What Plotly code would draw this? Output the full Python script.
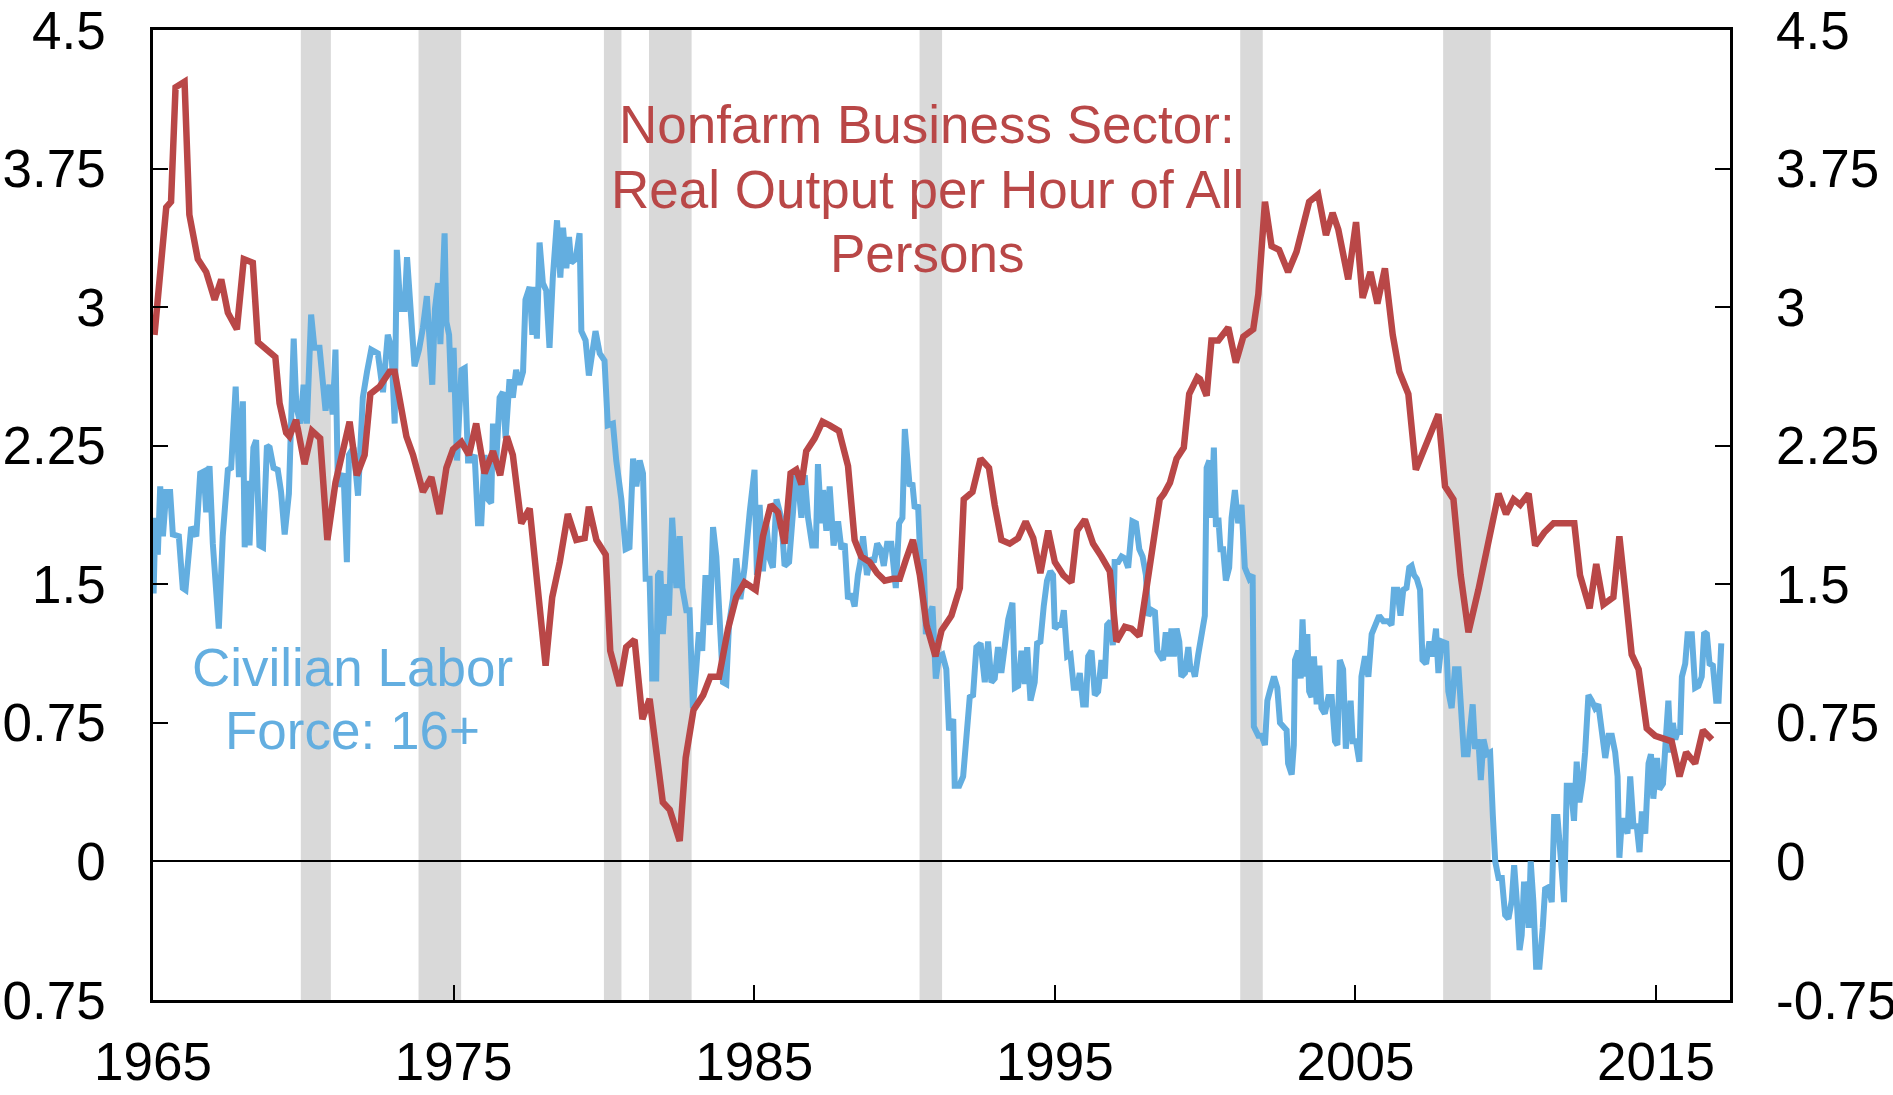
import plotly.graph_objects as go

# ---------------- data ----------------
# Civilian Labor Force: 16+ (yoy % change), decimal years
labor_years = [
    1965.02, 1965.08, 1965.16, 1965.24, 1965.33, 1965.44, 1965.57, 1965.66, 1965.86, 1965.99,
    1966.08, 1966.27, 1966.44, 1966.57, 1966.69, 1966.77, 1966.88, 1966.99, 1967.19, 1967.32,
    1967.49, 1967.60, 1967.75, 1967.86, 1967.99, 1968.05, 1968.12, 1968.21, 1968.34, 1968.43,
    1968.54, 1968.66, 1968.79, 1968.88, 1969.01, 1969.15, 1969.26, 1969.38, 1969.52, 1969.68,
    1969.77, 1969.90, 1970.01, 1970.12, 1970.26, 1970.37, 1970.54, 1970.65, 1970.74, 1970.87,
    1970.98, 1971.07, 1971.15, 1971.34, 1971.45, 1971.52, 1971.67, 1971.82, 1971.98, 1972.12,
    1972.26, 1972.48, 1972.65, 1972.81, 1972.93, 1973.04, 1973.11, 1973.23, 1973.37, 1973.45,
    1973.56, 1973.70, 1973.85, 1973.98, 1974.11, 1974.29, 1974.38, 1974.48, 1974.56, 1974.70,
    1974.76, 1974.85, 1974.92, 1975.00, 1975.11, 1975.26, 1975.37, 1975.48,
    1975.59, 1975.70, 1975.81, 1975.92, 1976.03, 1976.14, 1976.25, 1976.31, 1976.42, 1976.53,
    1976.64, 1976.73, 1976.86, 1976.97, 1977.08, 1977.19, 1977.31, 1977.39, 1977.53, 1977.62,
    1977.69, 1977.77, 1977.86, 1977.97, 1978.08, 1978.19, 1978.30, 1978.44, 1978.55, 1978.64,
    1978.75, 1978.84, 1978.91, 1979.06, 1979.19, 1979.25, 1979.39, 1979.50, 1979.61, 1979.72,
    1979.86, 1980.02, 1980.13, 1980.30, 1980.41, 1980.58, 1980.72, 1980.85, 1980.97, 1981.08,
    1981.19, 1981.30, 1981.39, 1981.52, 1981.61, 1981.74, 1981.80, 1981.88, 1981.96, 1982.07,
    1982.16, 1982.27, 1982.41, 1982.52, 1982.61, 1982.74, 1982.85, 1982.96, 1983.07, 1983.16,
    1983.27, 1983.38, 1983.52, 1983.63, 1983.74, 1983.85, 1983.96, 1984.07, 1984.16, 1984.29,
    1984.40, 1984.54, 1984.68, 1984.85, 1985.01, 1985.09, 1985.18, 1985.29, 1985.40, 1985.51,
    1985.62, 1985.74, 1985.90, 1986.01, 1986.16,
    1986.29, 1986.38, 1986.49, 1986.57, 1986.68, 1986.79, 1986.93, 1987.05, 1987.12, 1987.23,
    1987.29, 1987.40, 1987.51, 1987.64, 1987.79, 1987.90, 1988.01, 1988.12, 1988.23, 1988.34,
    1988.45, 1988.53, 1988.62, 1988.75, 1988.86, 1988.98, 1989.09, 1989.20, 1989.31, 1989.42,
    1989.56, 1989.71, 1989.82, 1989.93, 1990.01, 1990.08, 1990.17, 1990.26, 1990.34, 1990.45,
    1990.53, 1990.64, 1990.71, 1990.82, 1990.93, 1991.04, 1991.15, 1991.26, 1991.39, 1991.48,
    1991.62, 1991.67, 1991.82, 1991.95, 1992.06, 1992.17, 1992.28, 1992.39, 1992.53, 1992.67,
    1992.78, 1992.89, 1993.00, 1993.11, 1993.22, 1993.33, 1993.45, 1993.59, 1993.67, 1993.78,
    1993.89, 1994.00, 1994.08, 1994.19, 1994.33, 1994.41, 1994.52, 1994.63, 1994.74, 1994.85,
    1994.94, 1995.00, 1995.11, 1995.22, 1995.30, 1995.41, 1995.52, 1995.63, 1995.74, 1995.83,
    1995.94, 1996.03, 1996.11, 1996.22, 1996.33, 1996.44, 1996.55, 1996.66, 1996.74, 1996.85,
    1996.93, 1996.99, 1997.11, 1997.22, 1997.33, 1997.44, 1997.58, 1997.70, 1997.81, 1997.92,
    1998.03, 1998.11, 1998.22, 1998.33, 1998.41, 1998.52, 1998.60, 1998.69, 1998.80, 1998.88,
    1998.96, 1999.05, 1999.14, 1999.21, 1999.33, 1999.44, 1999.51, 1999.60, 1999.66, 1999.77,
    1999.88, 1999.99, 2000.05, 2000.14, 2000.21, 2000.29, 2000.36, 2000.44, 2000.51, 2000.60,
    2000.69, 2000.80, 2000.88, 2000.99, 2001.10, 2001.21, 2001.32, 2001.47, 2001.58, 2001.62,
    2001.77, 2001.88, 2001.99, 2002.07, 2002.15, 2002.29, 2002.40, 2002.49, 2002.60, 2002.71,
    2002.76, 2002.88, 2002.95, 2002.99, 2003.10, 2003.18, 2003.24, 2003.32, 2003.40, 2003.46,
    2003.54, 2003.62, 2003.71, 2003.80, 2003.87, 2003.98, 2004.10, 2004.21, 2004.32, 2004.40,
    2004.48, 2004.59, 2004.68, 2004.76, 2004.84, 2004.91, 2005.02, 2005.13, 2005.20, 2005.32,
    2005.43, 2005.54, 2005.65, 2005.79, 2005.93, 2006.09, 2006.20, 2006.28, 2006.39, 2006.50,
    2006.59, 2006.70, 2006.79, 2006.87, 2006.95, 2007.04, 2007.15, 2007.23, 2007.35, 2007.46,
    2007.57, 2007.68,
    2007.76, 2007.87, 2008.02, 2008.09, 2008.20, 2008.31, 2008.43, 2008.50, 2008.61, 2008.73,
    2008.81, 2008.90, 2008.98, 2009.09, 2009.17, 2009.26, 2009.37, 2009.48, 2009.57, 2009.65,
    2009.76, 2009.87, 2009.98, 2010.09, 2010.20, 2010.28, 2010.37, 2010.46, 2010.53, 2010.61,
    2010.70, 2010.76, 2010.83, 2010.92, 2011.01, 2011.12, 2011.23, 2011.31, 2011.42, 2011.53,
    2011.61, 2011.72, 2011.83, 2011.94, 2012.03, 2012.16, 2012.27, 2012.36, 2012.45, 2012.56,
    2012.64, 2012.75, 2012.86, 2012.97, 2013.08, 2013.20, 2013.31, 2013.42, 2013.53, 2013.64,
    2013.72, 2013.78, 2013.86, 2013.94, 2014.05, 2014.14, 2014.25, 2014.36, 2014.45, 2014.53,
    2014.64, 2014.75, 2014.83, 2014.91, 2015.03, 2015.11, 2015.23, 2015.34, 2015.41, 2015.49,
    2015.56, 2015.64, 2015.71, 2015.80, 2015.86, 2015.97, 2016.05, 2016.19, 2016.30, 2016.41,
    2016.52, 2016.60, 2016.69, 2016.78, 2016.89, 2017.00, 2017.08, 2017.17,
]
labor_values = [
    1.45, 1.86, 1.66, 2.03, 1.76, 2.00, 2.00, 1.77, 1.76, 1.48,
    1.47, 1.81, 1.76, 2.10, 2.11, 1.89, 2.14, 1.72, 1.26, 1.76,
    2.12, 2.13, 2.57, 2.08, 2.49, 1.70, 2.06, 1.71, 2.24, 2.28,
    1.71, 1.70, 2.25, 2.24, 2.13, 2.12, 2.00, 1.77, 1.99, 2.83,
    2.46, 2.37, 2.58, 2.37, 2.96, 2.78, 2.78, 2.54, 2.44, 2.58,
    2.42, 2.77, 2.03, 2.10, 1.62, 2.20, 2.24, 1.98, 2.51, 2.65,
    2.77, 2.75, 2.54, 2.85, 2.78, 2.37, 3.31, 2.99, 2.99, 3.27,
    3.04, 2.68, 2.77, 2.89, 3.06, 2.58, 2.99, 3.13, 2.80, 3.40,
    2.92, 2.85, 2.54, 2.78, 2.17, 2.66, 2.67, 2.17,
    2.17, 2.20, 1.83, 1.83, 2.20, 1.96, 1.94, 2.37, 2.17, 2.51,
    2.54, 2.29, 2.61, 2.51, 2.66, 2.58, 2.65, 3.04, 3.11, 2.85,
    3.11, 2.83, 3.35, 3.13, 3.09, 2.78, 3.16, 3.47, 3.16, 3.43,
    3.21, 3.38, 3.24, 3.26, 3.40, 2.87, 2.82, 2.63, 2.75, 2.87,
    2.75, 2.71, 2.36, 2.37, 2.17, 1.96, 1.69, 1.70, 2.18, 2.03,
    2.17, 2.10, 1.53, 1.53, 0.99, 0.99, 1.55, 1.57, 1.23, 1.50,
    1.33, 1.86, 1.48, 1.76, 1.48, 1.36, 1.36, 0.83, 1.04, 1.24,
    1.14, 1.55, 1.28, 1.81, 1.65, 1.35, 0.97, 0.96, 1.28, 1.42,
    1.64, 1.42, 1.59, 1.89, 2.12, 1.55, 1.93, 1.57, 1.83, 1.64,
    1.59, 1.96, 1.86, 1.60, 1.62,
    1.89, 2.10, 2.00, 1.86, 2.09, 1.86, 1.71, 1.71, 2.15, 1.83,
    2.01, 1.79, 2.03, 1.71, 1.84, 1.69, 1.72, 1.42, 1.45, 1.38,
    1.55, 1.62, 1.76, 1.55, 1.64, 1.62, 1.72, 1.69, 1.60, 1.72,
    1.72, 1.48, 1.83, 1.86, 2.34, 2.17, 2.03, 2.05, 1.91, 1.93,
    1.62, 1.62, 1.23, 1.33, 1.38, 0.99, 1.11, 1.12, 1.04, 0.71,
    0.77, 0.41, 0.41, 0.46, 0.70, 0.89, 0.90, 1.16, 1.18, 0.97,
    1.19, 0.97, 0.99, 1.16, 1.02, 1.19, 1.31, 1.40, 0.94, 0.95,
    1.14, 0.96, 1.16, 0.87, 0.97, 1.18, 1.19, 1.38, 1.52, 1.57,
    1.55, 1.26, 1.28, 1.28, 1.36, 1.11, 1.12, 0.94, 0.94, 1.02,
    0.85, 0.85, 1.11, 1.14, 0.90, 0.92, 1.09, 0.99, 1.28, 1.30,
    1.17, 1.62, 1.62, 1.65, 1.64, 1.59, 1.84, 1.83, 1.69, 1.65,
    1.55, 1.33, 1.36, 1.35, 1.14, 1.11, 1.09, 1.24, 1.11, 1.26,
    1.11, 1.26, 1.19, 1.00, 1.02, 1.16, 1.04, 1.04, 1.00, 1.12,
    1.23, 1.33, 2.13, 2.17, 1.86, 2.24, 1.81, 1.86, 1.69, 1.69,
    1.52, 1.59, 1.86, 2.01, 1.83, 1.93, 1.59, 1.53, 1.55, 0.73,
    0.68, 0.68, 0.63, 0.87, 0.92, 1.00, 0.94, 0.75, 0.73, 0.71,
    0.53, 0.47, 0.63, 1.09, 1.14, 0.99, 1.31, 1.00, 1.23, 0.92,
    0.89, 1.11, 0.85, 1.06, 0.83, 0.80, 0.89, 0.89, 0.65, 0.63,
    1.09, 1.04, 0.61, 0.77, 0.87, 0.65, 0.65, 0.54, 1.00, 1.11,
    1.00, 1.23, 1.28, 1.33, 1.30, 1.30, 1.28, 1.47, 1.47, 1.33,
    1.47, 1.48, 1.59, 1.60, 1.55, 1.53, 1.47, 1.09, 1.07, 1.19,
    1.11, 1.26,
    1.02, 1.19, 1.18, 0.92, 0.83, 1.04, 1.04, 0.87, 0.58, 0.58,
    0.70, 0.85, 0.61, 0.66, 0.44, 0.66, 0.58, 0.59, 0.25, 0.00,
    -0.09, -0.09, -0.29, -0.31, -0.21, -0.02, -0.22, -0.48, -0.40, -0.11,
    -0.19, -0.36, 0.00, -0.22, -0.57, -0.57, -0.36, -0.15, -0.14, -0.22,
    0.24, 0.24, 0.02, -0.22, 0.41, 0.41, 0.22, 0.54, 0.32, 0.44,
    0.59, 0.90, 0.87, 0.83, 0.85, 0.66, 0.56, 0.68, 0.68, 0.59,
    0.46, 0.02, 0.22, 0.22, 0.15, 0.46, 0.19, 0.19, 0.05, 0.27,
    0.15, 0.53, 0.58, 0.34, 0.56, 0.39, 0.42, 0.70, 0.87, 0.59,
    0.75, 0.66, 0.70, 0.70, 1.00, 1.07, 1.23, 1.23, 0.94, 0.95,
    1.00, 1.24, 1.23, 1.07, 1.06, 0.87, 0.87, 1.18,
]

# Nonfarm Business Sector: Real Output per Hour of All Persons
prod_years = [
    1965.05, 1965.44, 1965.60, 1965.75, 1966.05, 1966.21, 1966.49, 1966.77, 1967.05, 1967.27,
    1967.49, 1967.79, 1968.02, 1968.32, 1968.49, 1968.77, 1969.07, 1969.21, 1969.43, 1969.54,
    1969.76, 1970.04, 1970.29, 1970.56, 1970.80, 1971.07, 1971.32, 1971.54, 1971.78, 1972.04,
    1972.23, 1972.54, 1972.87, 1973.04, 1973.43, 1973.65, 1973.98, 1974.26, 1974.53, 1974.76,
    1974.98, 1975.26, 1975.51,
    1975.75, 1976.03, 1976.31, 1976.55, 1976.77, 1976.97, 1977.25, 1977.53, 1977.80, 1978.06,
    1978.28, 1978.53, 1978.80, 1979.08, 1979.36, 1979.50, 1979.75, 1980.06, 1980.21, 1980.52,
    1980.74, 1981.02, 1981.28, 1981.52, 1981.96, 1982.19, 1982.52, 1982.72, 1982.98, 1983.30,
    1983.54, 1983.83, 1984.13, 1984.40, 1984.68, 1985.05, 1985.29, 1985.55, 1985.79, 1986.01,
    1986.21,
    1986.40, 1986.57, 1986.73, 1987.01, 1987.27, 1987.51, 1987.82, 1988.12, 1988.34, 1988.56,
    1988.84, 1989.09, 1989.34, 1989.62, 1989.84, 1990.04, 1990.28, 1990.51, 1990.73, 1991.03,
    1991.23, 1991.56, 1991.84, 1991.97, 1992.26, 1992.53, 1992.81, 1993.00, 1993.22, 1993.50,
    1993.78, 1994.03, 1994.28, 1994.52, 1994.78, 1995.00, 1995.28, 1995.55, 1995.74, 1996.00,
    1996.27, 1996.55, 1996.83,
    1997.05, 1997.33, 1997.55, 1997.81, 1998.05, 1998.27, 1998.49, 1998.63, 1998.83, 1999.05,
    1999.29, 1999.47, 1999.74, 1999.83, 2000.05, 2000.21, 2000.44, 2000.77, 2001.02, 2001.27,
    2001.60, 2001.77, 2001.99, 2002.21, 2002.46, 2002.76, 2003.04, 2003.46, 2003.76, 2004.02,
    2004.24, 2004.43, 2004.76, 2005.02, 2005.24, 2005.50, 2005.73, 2005.98, 2006.24, 2006.46,
    2006.76, 2007.01, 2007.31, 2007.53,
    2007.76, 2007.98, 2008.26, 2008.50, 2008.76, 2009.09, 2009.48, 2009.76, 2010.01, 2010.26,
    2010.48, 2010.76, 2010.98, 2011.28, 2011.59, 2011.92, 2012.28, 2012.47, 2012.79, 2013.01,
    2013.25, 2013.58, 2013.78, 2013.97, 2014.19, 2014.42, 2014.69, 2014.97, 2015.34, 2015.52,
    2015.78, 2016.00, 2016.30, 2016.56, 2016.86,
]
prod_values = [
    2.85, 3.54, 3.57, 4.19, 4.22, 3.50, 3.26, 3.19, 3.04, 3.15,
    2.97, 2.88, 3.26, 3.24, 2.81, 2.77, 2.73, 2.48, 2.32, 2.30,
    2.39, 2.15, 2.33, 2.29, 1.74, 2.05, 2.24, 2.38, 2.09, 2.20,
    2.53, 2.57, 2.65, 2.65, 2.30, 2.20, 2.00, 2.08, 1.88, 2.13,
    2.23, 2.27, 2.20,
    2.37, 2.10, 2.22, 2.09, 2.30, 2.20, 1.83, 1.91, 1.47, 1.06,
    1.43, 1.62, 1.88, 1.74, 1.75, 1.92, 1.74, 1.66, 1.14, 0.95,
    1.16, 1.20, 0.77, 0.88, 0.32, 0.28, 0.11, 0.56, 0.82, 0.90,
    1.00, 1.00, 1.26, 1.43, 1.51, 1.47, 1.76, 1.93, 1.89, 1.72,
    2.10,
    2.12, 2.04, 2.22, 2.29, 2.38, 2.36, 2.33, 2.14, 1.74, 1.65,
    1.62, 1.56, 1.52, 1.53, 1.53, 1.63, 1.74, 1.55, 1.28, 1.11,
    1.25, 1.33, 1.48, 1.96, 2.00, 2.18, 2.13, 1.93, 1.74, 1.72,
    1.75, 1.84, 1.75, 1.56, 1.79, 1.62, 1.55, 1.51, 1.79, 1.85,
    1.72, 1.65, 1.57,
    1.19, 1.27, 1.26, 1.22, 1.48, 1.72, 1.96, 1.99, 2.05, 2.18,
    2.24, 2.53, 2.62, 2.61, 2.52, 2.82, 2.82, 2.89, 2.70, 2.84,
    2.88, 3.07, 3.57, 3.33, 3.31, 3.19, 3.30, 3.57, 3.61, 3.39,
    3.51, 3.42, 3.15, 3.46, 3.05, 3.19, 3.02, 3.21, 2.85, 2.65,
    2.53, 2.12, 2.24, 2.32,
    2.42, 2.03, 1.96, 1.55, 1.24, 1.47, 1.78, 1.99, 1.88, 1.96,
    1.93, 1.99, 1.71, 1.78, 1.83, 1.83, 1.83, 1.55, 1.37, 1.61,
    1.39, 1.43, 1.76, 1.47, 1.12, 1.04, 0.72, 0.68, 0.66, 0.65,
    0.46, 0.59, 0.53, 0.71, 0.66,
]

# NBER recessions (decimal years)
recession_starts = [1969.917, 1973.833, 1980.000, 1981.500, 1990.500, 2001.167, 2007.917]
recession_ends = [1970.917, 1975.250, 1980.583, 1982.917, 1991.250, 2001.917, 2009.500]

x_ticks = [1965, 1975, 1985, 1995, 2005, 2015]
x_tick_text = ["1965", "1975", "1985", "1995", "2005", "2015"]
y_ticks = [-0.75, 0, 0.75, 1.5, 2.25, 3, 3.75, 4.5]
y_tick_text = ["-0.75", "0", "0.75", "1.5", "2.25", "3", "3.75", "4.5"]

# annotation text lines
prod_label_lines = ["Nonfarm Business Sector:", "Real Output per Hour of All", "Persons"]
prod_label_x = 1990.75
prod_label_y = [3.99, 3.637, 3.29]
labor_label_lines = ["Civilian Labor", "Force: 16+"]
labor_label_x = 1971.65
labor_label_y = [1.049, 0.709]

# ---------------- style ----------------
RED = "#B94747"
BLUE = "#63AEE0"
GREY = "#D9D9D9"
FONT = "Liberation Sans, Arial, sans-serif"
FS = 53

fig = go.Figure()
fig.add_trace(go.Scatter(x=labor_years, y=labor_values, mode="lines",
                         line=dict(color=BLUE, width=6), yaxis="y",
                         showlegend=False, hoverinfo="skip"))
fig.add_trace(go.Scatter(x=prod_years, y=prod_values, mode="lines",
                         line=dict(color=RED, width=6.5), yaxis="y2",
                         showlegend=False, hoverinfo="skip"))

for s, e in zip(recession_starts, recession_ends):
    fig.add_shape(type="rect", xref="x", yref="paper", x0=s, x1=e, y0=0, y1=1,
                  fillcolor=GREY, line=dict(width=0), layer="below")

for txt, yy in zip(prod_label_lines, prod_label_y):
    fig.add_annotation(x=prod_label_x, y=yy, xref="x", yref="y", text=txt,
                       showarrow=False, xanchor="center", yanchor="middle",
                       font=dict(family=FONT, size=FS, color=RED))
for txt, yy in zip(labor_label_lines, labor_label_y):
    fig.add_annotation(x=labor_label_x, y=yy, xref="x", yref="y", text=txt,
                       showarrow=False, xanchor="center", yanchor="middle",
                       font=dict(family=FONT, size=FS, color=BLUE))

yrange = [-0.75, 4.5]
fig.update_layout(
    width=1893, height=1095,
    margin=dict(l=153, r=163, t=30, b=95, pad=0, autoexpand=False),
    paper_bgcolor="white", plot_bgcolor="white",
    font=dict(family=FONT, size=FS, color="black"),
    xaxis=dict(range=[1965, 2017.46], tickvals=x_ticks, ticktext=x_tick_text,
               ticks="inside", ticklen=15, tickwidth=2, tickcolor="black",
               showline=True, linecolor="black", linewidth=2.5, mirror=True,
               showgrid=False, zeroline=False, automargin=False,
               tickfont=dict(family=FONT, size=FS, color="black"),
               ticklabelstandoff=14),
    yaxis=dict(range=yrange, tickvals=y_ticks, ticktext=y_tick_text,
               ticks="inside", ticklen=15, tickwidth=2, tickcolor="black",
               showline=True, linecolor="black", linewidth=2.5, mirror="ticks",
               showgrid=False, zeroline=True, zerolinecolor="black", zerolinewidth=2,
               automargin=False, ticklabeloverflow="allow",
               tickfont=dict(family=FONT, size=FS, color="black"),
               ticklabelstandoff=34),
    yaxis2=dict(range=yrange, tickvals=y_ticks, ticktext=y_tick_text,
                overlaying="y", side="right", ticks="",
                showline=False, showgrid=False, zeroline=False, automargin=False,
                ticklabeloverflow="allow",
                tickfont=dict(family=FONT, size=FS, color="black"),
                ticklabelstandoff=45),
)

# remove the default 8px page margin so the figure sits at the window's corner
fig.write_html("out.html", config={"displayModeBar": False},
               post_script="document.body.style.margin='0px';")
